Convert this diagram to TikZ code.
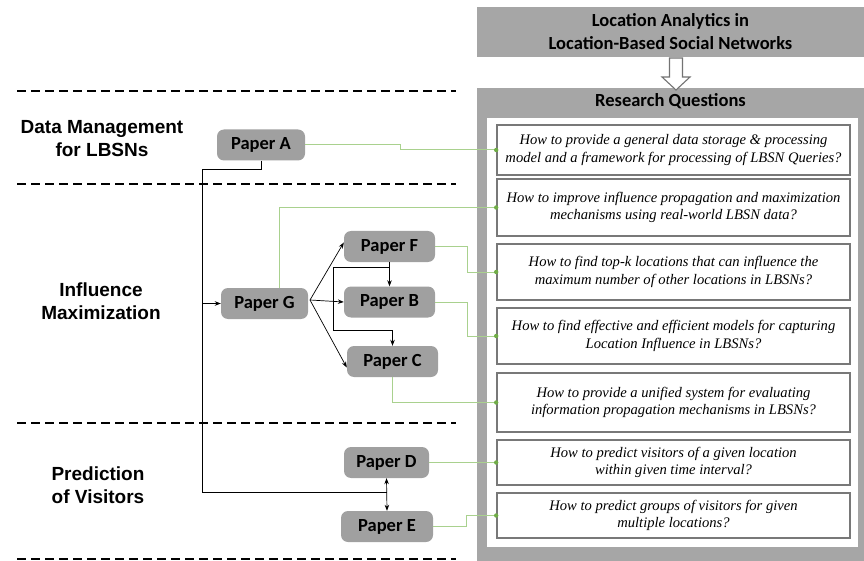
\documentclass[tikz,border=0pt]{standalone}
\usepackage{fontspec}
\setmainfont{Liberation Serif}
\newfontfamily\carl{Carlito}
\newfontfamily\lsans{Liberation Sans}
\usetikzlibrary{arrows.meta,calc}
\definecolor{bgray}{RGB}{166,166,166}
\definecolor{pgray}{RGB}{160,160,160}
\definecolor{qborder}{RGB}{120,120,120}
\definecolor{gline}{RGB}{169,209,142}
\definecolor{gdot}{RGB}{112,173,71}
\begin{document}
\begin{tikzpicture}[x=1pt,y=-1pt,
 paper/.style={fill=pgray, rounded corners=7pt, minimum height=31pt, inner sep=0pt,
   font=\carl\bfseries\fontsize{18.5}{22}\selectfont},
 question/.style={draw=qborder, line width=1.6pt, fill=white, minimum width=353pt,
   inner sep=0pt, align=center, font=\itshape\fontsize{14.6}{17.7}\selectfont},
 section/.style={align=center, inner sep=0pt, font=\lsans\bfseries\fontsize{19}{23}\selectfont},
 sep/.style={line width=2.8pt, dash pattern=on 8.5pt off 5.5pt},
 glink/.style={draw=gline, line width=1pt},
 blink/.style={draw=black, line width=0.7pt},
 arr/.style={-{Stealth[length=6pt,width=4.5pt]}},
 darr/.style={{Stealth[length=6pt,width=4.5pt]}-{Stealth[length=6pt,width=4.5pt]}},
 hdr/.style={align=center, inner sep=0pt, font=\carl\bfseries\fontsize{18.5}{23}\selectfont},
]
\useasboundingbox (0,0) rectangle (864,561);

% separators
\draw[sep] (17,91) -- (456,91);
\draw[sep] (17,184) -- (456,184);
\draw[sep] (17,423) -- (456,423);
\draw[sep] (17,559) -- (456,559);

% section labels
\node[section] (sdm) at (102,138.5) {Data Management\\for LBSNs};
\node[section] (sim) at (101,301.5) {Influence\\Maximization};
\node[section] (spv) at (98,485) {Prediction\\of Visitors};

% title box and research question frame
\node[fill=bgray, minimum width=387pt, minimum height=50pt, hdr] (title) at (670.5,32)
  {Location Analytics in\\Location-Based Social Networks};
\node[fill=bgray, minimum width=387pt, minimum height=473pt, inner sep=0pt] (rq) at (670.5,324.5) {};
\node[hdr] (rqt) at (670.5,101) {Research Questions};
\node[fill=white, minimum width=371pt, minimum height=429pt, inner sep=0pt] (rqin) at (672.5,332.5) {};

% hollow arrow
\draw[draw=black!55, fill=white, line width=1.1pt, line join=miter]
  (669.5,58) -- (682.5,58) -- (682.5,77) -- (690,77) -- (676,90) -- (662,77) -- (669.5,77) -- cycle;

% questions
\node[question, minimum height=50pt] (q1) at (673.5,150)
  {How to provide a general data storage \& processing\\model and a framework for processing of LBSN Queries?};
\node[question, minimum height=57pt] (q2) at (673.5,207.5)
  {How to improve influence propagation and maximization\\mechanisms using real-world LBSN data?};
\node[question, minimum height=56pt] (q3) at (673.5,272)
  {How to find top-k locations that can influence the\\maximum number of other locations in LBSNs?};
\node[question, minimum height=56pt] (q4) at (673.5,336)
  {How to find effective and efficient models for capturing\\Location Influence in LBSNs?};
\node[question, minimum height=59pt] (q5) at (673.5,402.5)
  {How to provide a unified system for evaluating\\information propagation mechanisms in LBSNs?};
\node[question, minimum height=45pt] (q6) at (673.5,462.5)
  {How to predict visitors of a given location\\within given time interval?};
\node[question, minimum height=45pt] (q7) at (673.5,515.5)
  {How to predict groups of visitors for given\\multiple locations?};

% papers
\node[paper, minimum width=88pt] (A) at (261,145) {Paper A};
\node[paper, minimum width=91pt] (F) at (389.5,246.5) {Paper F};
\node[paper, minimum width=87pt] (G) at (264.5,303.5) {Paper G};
\node[paper, minimum width=91pt] (B) at (389.5,302) {Paper B};
\node[paper, minimum width=91pt] (C) at (392.5,361.5) {Paper C};
\node[paper, minimum width=85pt] (D) at (386.5,462.5) {Paper D};
\node[paper, minimum width=92pt] (E) at (387,526.5) {Paper E};

% green links
\draw[glink] (A.east) -- ++(95,0) |- (q1.west);
\draw[glink] ($(G.north)+(14.5,0)$) |- (q2.west);
\draw[glink] (F.east) -- ++(32,0) |- (q3.west);
\draw[glink] (B.east) -- ++(32,0) |- (q4.west);
\draw[glink] (C.south) |- (q5.west);
\draw[glink] (D.east) -- (q6.west);
\draw[glink] (E.east) -- ++(33,0) |- (q7.west);
\foreach \q in {q1,q2,q3,q4,q5,q6,q7} \fill[gdot] (\q.west) circle (2.2pt);

% black links
\coordinate (jA) at (202,169);
\coordinate (jG) at (202,303.5);
\coordinate (mDE) at ($(D.south)!0.42!(E.north)$);
\draw[blink] (A.south) |- (jA) |- (mDE);
\draw[blink,arr] (jG) -- (G.west);
\draw[blink,darr] (D.south) -- (E.north);
\coordinate (gout) at (310,300);
\draw[blink,arr] (gout) -- ($(F.west)+(0,-4)$);
\draw[blink,arr] (gout) -- (B.west);
\draw[blink,arr] (gout) -- ($(C.west)+(0,6)$);
\draw[blink,arr] (F.south) -- (B.north);
\coordinate (fc1) at (333,267);
\draw[blink,arr] (F.south) |- (fc1) |- ($(C.north)+(0,-15)$) -- (C.north);
\end{tikzpicture}
\end{document}
